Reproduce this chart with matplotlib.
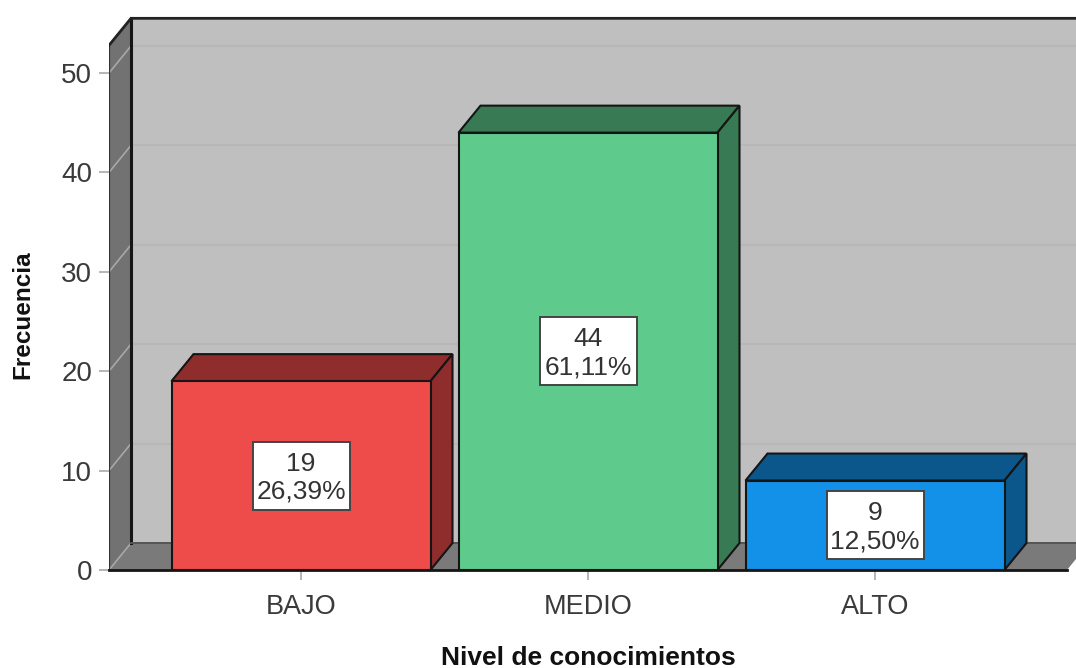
"""
Nivel de conocimientos: SPSS-style 3D bar chart.
"""
import matplotlib
matplotlib.use("Agg")
import matplotlib.pyplot as plt
from matplotlib.patches import Polygon, Rectangle

plt.rcParams["font.family"] = ["Liberation Sans", "DejaVu Sans"]

categories = ["BAJO", "MEDIO", "ALTO"]
counts = [19, 44, 9]
percents = ["26,39%", "61,11%", "12,50%"]
front_colors = ["#ee4b4b", "#5ecb8c", "#1390e8"]
dark_colors = ["#8f2d2d", "#387a54", "#0b578c"]
yticks = [0, 10, 20, 30, 40, 50]

W, H = 1076, 668
PX_Y = 9.94     # pixels per count
PX_X = 287.0    # pixels per category
DX = 22 / PX_X  # depth of the 3D box
DY = 27 / PX_Y
BAR_W = 259 / PX_X
BOX_W = 97 / PX_X
BOX_H = 68 / PX_Y
EDGE = "#151515"

fig = plt.figure(figsize=(W / 100, H / 100), dpi=100, facecolor="white")
ax = fig.add_axes([109 / W, (H - 570) / H, (W - 109) / W, 570 / H])
x_left = (109 - 301) / PX_X
x_right = (W - 301) / PX_X
y_top = 570 / PX_Y
ax.set_xlim(x_left, x_right)
ax.set_ylim(0, y_top)
ax.patch.set_alpha(0)
for s in ax.spines.values():
    s.set_visible(False)

wall_top = 55.5
# back wall, left wall and floor
ax.add_patch(Polygon([(x_left + DX, DY), (x_right + 1, DY), (x_right + 1, wall_top),
                      (x_left + DX, wall_top)], fc="#bfbfbf", ec="none", zorder=1))
ax.add_patch(Polygon([(x_left, 0), (x_left + DX, DY), (x_left + DX, wall_top),
                      (x_left, wall_top - DY)], fc="#727272", ec="none", zorder=1))
floor_end = (1067 - 301) / PX_X
ax.add_patch(Polygon([(x_left, 0), (x_left + DX, DY), (floor_end + DX, DY), (floor_end, 0)],
                     fc="#7a7a7a", ec="none", zorder=1))

# gridlines on the back wall with the diagonals on the left wall
for v in yticks[1:]:
    ax.plot([x_left + DX, x_right], [v + DY, v + DY], color="#b7b7b7", lw=1.5, zorder=2)
    ax.plot([x_left, x_left + DX], [v, v + DY], color="#a8a8a8", lw=1.2, zorder=2)
ax.plot([x_left, x_left + DX], [0, DY], color="#a8a8a8", lw=1.2, zorder=2)

# wall outlines
ax.plot([x_left + DX, x_left + DX], [DY, wall_top], color=EDGE, lw=2.2, zorder=3)
ax.plot([x_left, x_left], [0, wall_top - DY], color="#333333", lw=1.6, zorder=3)
ax.plot([x_left, x_left + DX, x_right], [wall_top - DY, wall_top, wall_top],
        color="#222222", lw=2.0, zorder=3, solid_joinstyle="miter")
ax.plot([x_left + DX, x_right], [DY, DY], color="#555555", lw=1.4, zorder=3)
ax.plot([x_left, floor_end], [0, 0], color=EDGE, lw=2.0, zorder=3, clip_on=False)

# bars: front face, top and side
xs = range(len(categories))
ax.bar(xs, counts, width=BAR_W, color=front_colors, edgecolor=EDGE, linewidth=1.5, zorder=6)
for i, c, dark in zip(xs, counts, dark_colors):
    l, r = i - BAR_W / 2, i + BAR_W / 2
    ax.add_patch(Polygon([(l, c), (l + DX, c + DY), (r + DX, c + DY), (r, c)],
                         fc=dark, ec=EDGE, lw=1.5, zorder=5, joinstyle="miter"))
    ax.add_patch(Polygon([(r, 0), (r + DX, DY), (r + DX, c + DY), (r, c)],
                         fc=dark, ec=EDGE, lw=1.5, zorder=5, joinstyle="miter"))
    ax.add_patch(Rectangle((i - BOX_W / 2, c / 2 - BOX_H / 2), BOX_W, BOX_H,
                           fc="white", ec="#444444", lw=1.4, zorder=7))
    ax.text(i, c / 2 - 2 / PX_Y, f"{c}\n{percents[i]}", ha="center", va="center", fontsize=19,
            color="#333333", linespacing=1.2, zorder=8)

ax.set_yticks(yticks)
ax.set_xticks(list(xs))
ax.set_xticklabels(categories)
ax.tick_params(axis="y", length=7, width=1.4, color="#b5b5b5", labelsize=20,
               labelcolor="#3a3a3a", pad=5)
ax.tick_params(axis="x", length=7, width=1.4, color="#b5b5b5", labelsize=19.5,
               labelcolor="#3a3a3a", pad=10)

fig.text(23 / W, 1 - 315 / H, "Frecuencia", rotation=90, ha="center", va="center",
         fontsize=17.5, fontweight="bold", color="#111111")
fig.text(588 / W, 1 - 658 / H, "Nivel de conocimientos", ha="center", va="center",
         fontsize=19, fontweight="bold", color="#111111")

fig.savefig("out.png", dpi=100, facecolor="white")
